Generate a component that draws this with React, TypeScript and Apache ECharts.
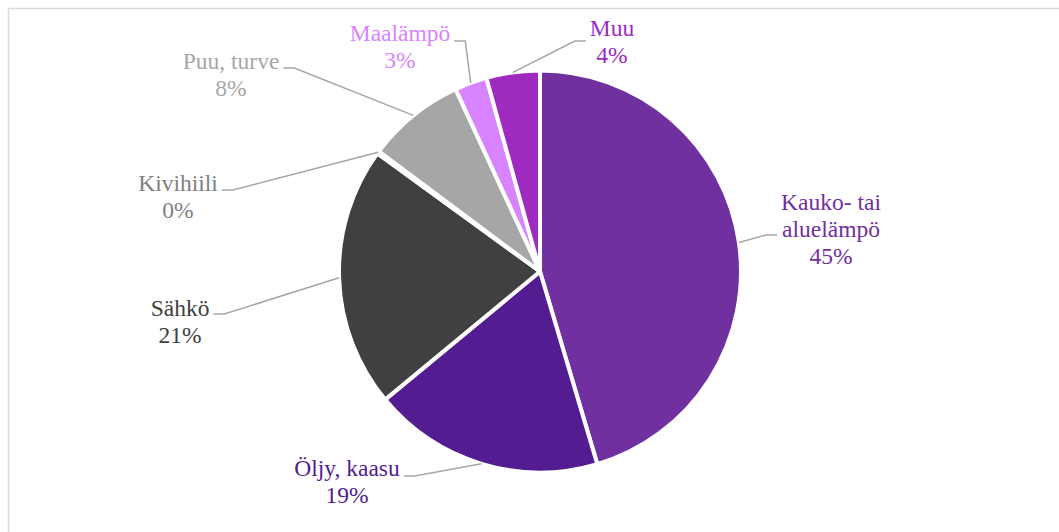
import React, { useEffect, useRef } from "react";
import * as echarts from "echarts";

const CATEGORIES = ["Kauko- tai\naluelämpö", "Öljy, kaasu", "Sähkö", "Kivihiili", "Puu, turve", "Maalämpö", "Muu"];
const VALUES = [45.4, 18.6, 21.0, 0.2, 7.9, 2.6, 4.3];
const SLICE_COLORS = ["#7030A0", "#531C91", "#404040", "#262626", "#A6A6A6", "#D883FF", "#9E2AC0"];
const LABEL_COLORS = ["#7030A0", "#531C91", "#404040", "#7F7F7F", "#A6A6A6", "#D883FF", "#9E2AC0"];
// label block centre x, centre y, leader attach y
const LABEL_ANCHORS: number[][] = [
  [831, 229, 235],
  [347, 481.5, 476],
  [180, 321, 314],
  [178, 196, 190],
  [231, 74.5, 68],
  [400, 46, 41],
  [612, 41.5, 41],
];

const CX = 540;
const CY = 271.5;
const R = 201;
const FONT_FAMILY = "Liberation Serif";
const FONT_SIZE = 23.5;
const LINE_HEIGHT = 27;

export default function App() {
  const ref = useRef<HTMLDivElement>(null);
  useEffect(() => {
    if (!ref.current) return;
    const chart = echarts.init(ref.current, undefined, { renderer: "svg" });
    const total = VALUES.reduce((a, b) => a + b, 0);
    const mids: number[] = [];
    let acc = 0;
    VALUES.forEach((v) => {
      mids.push((acc + v / 2) / total);
      acc += v;
    });
    const ctx = document.createElement("canvas").getContext("2d")!;
    ctx.font = `${FONT_SIZE}px "${FONT_FAMILY}"`;

    const labelGraphics: any[] = [];
    CATEGORIES.forEach((name, i) => {
      const lines = name.split("\n").concat([`${Math.round((VALUES[i] / total) * 100)}%`]);
      const w = Math.max(...lines.map((s) => ctx.measureText(s).width));
      const [lx, ly, ay] = LABEL_ANCHORS[i];
      const left = lx < CX;
      const edge = left ? lx + w / 2 + 4 : lx - w / 2 - 4;
      const ang = mids[i] * Math.PI * 2;
      const p0 = [CX + R * Math.sin(ang), CY - R * Math.cos(ang)];
      const p1 = [edge + (left ? 11 : -11), ay];
      labelGraphics.push({
        type: "polyline",
        shape: { points: [p0, p1, [edge, ay]] },
        style: { stroke: "#A6A6A6", lineWidth: 1.5, fill: "none" },
        silent: true,
        z: 10,
      });
      lines.forEach((line, k) => {
        labelGraphics.push({
          type: "text",
          x: lx,
          y: ly + (k - (lines.length - 1) / 2) * LINE_HEIGHT,
          style: {
            text: line,
            fill: LABEL_COLORS[i],
            fontFamily: FONT_FAMILY,
            fontSize: FONT_SIZE,
            align: "center",
            verticalAlign: "middle",
          },
          silent: true,
          z: 10,
        });
      });
    });

    chart.setOption({
      animation: false,
      backgroundColor: "#ffffff",
      graphic: [
        {
          type: "rect",
          shape: { x: 8.5, y: 8.5, width: 1200, height: 700 },
          style: { fill: "none", stroke: "#D9D9D9", lineWidth: 1.5 },
          silent: true,
        },
        ...labelGraphics,
      ],
      series: [
        {
          type: "pie",
          center: [CX, CY],
          radius: [0, R],
          startAngle: 90,
          clockwise: true,
          itemStyle: { borderColor: "#ffffff", borderWidth: 4 },
          label: { show: false },
          labelLine: { show: false },
          data: CATEGORIES.map((name, i) => ({
            name,
            value: VALUES[i],
            itemStyle: { color: SLICE_COLORS[i] },
          })),
        },
      ],
    });
    return () => chart.dispose();
  }, []);
  return (
    <div
      ref={ref}
      style={{ position: "fixed", left: 0, top: 0, width: 1059, height: 532, background: "#fff" }}
    />
  );
}
